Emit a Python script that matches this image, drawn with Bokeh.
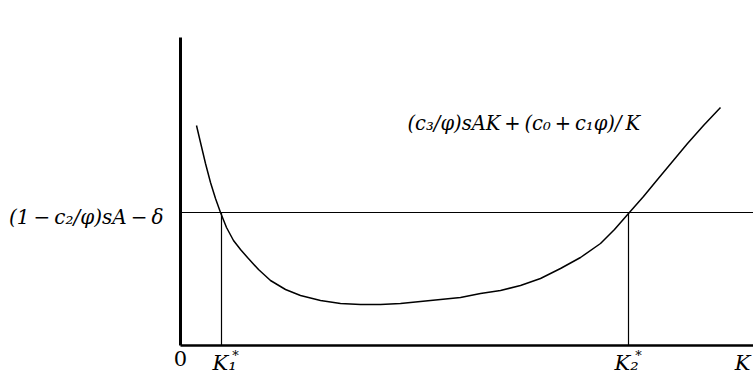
from bokeh.plotting import figure
from bokeh.models import Range1d, Label
from bokeh.embed import file_html
from bokeh.resources import INLINE

# ---- data (arbitrary units) ----
curve_px = [196, 200, 205, 210, 215, 220, 226, 233, 240, 247, 258, 270, 285, 300,
            320, 340, 360, 380, 400, 420, 440, 460, 480, 500, 520, 540, 560, 580,
            600, 614, 628, 643, 657, 672, 687, 703, 720]
curve_py = [125, 142, 163, 182, 198, 212, 227, 240, 249, 257, 269, 280, 289, 295,
            300, 303, 304, 304, 303, 301, 299, 297, 293, 290, 285, 278, 268, 257,
            243, 229, 213, 196, 179, 161, 143, 125, 107]
curve_K = [(x - 180) / 50 for x in curve_px]
curve_v = [(345 - y) / 50 for y in curve_py]
K1 = 0.82
K2 = 8.96
level = 2.66
K_max = 11.46
v_max = 6.16
level_label = "(1\u2009−\u2009c₂/φ)sA\u2009−\u2009δ"
curve_label = "(c₃/φ)sAK\u2009+\u2009(c₀\u2009+\u2009c₁φ)/\u2009K"
tick_labels = ["0", "K₁", "K₂", "K"]

FONT = "DejaVu Serif"

p = figure(width=753, height=383,
           x_range=Range1d(-3.6, 11.46), y_range=Range1d(-0.76, 6.9),
           output_backend="svg", toolbar_location=None,
           x_axis_location=None, y_axis_location=None, min_border=0)
p.grid.visible = False
p.outline_line_color = None
p.background_fill_color = "white"
p.border_fill_color = "white"

# axes drawn as thick lines
p.line([0, 0], [0, v_max], line_color="black", line_width=3)
p.line([0, K_max], [0, 0], line_color="black", line_width=2.5)

# horizontal level and vertical drops
p.segment(x0=[0], y0=[level], x1=[K_max], y1=[level], line_color="black", line_width=1.2)
p.segment(x0=[K1, K2], y0=[level, level], x1=[K1, K2], y1=[0, 0],
          line_color="black", line_width=1.2)

# cost curve
p.line(curve_K, curve_v, line_color="black", line_width=1.5)

def lab(x, y, text, size, align="center", baseline="top", xo=0, yo=0, style="italic"):
    p.add_layout(Label(x=x, y=y, text=text, text_align=align, text_baseline=baseline,
                       x_offset=xo, y_offset=yo, text_font=FONT, text_font_style=style,
                       text_font_size=size, text_color="black"))

# x-axis labels
lab(0, 0, tick_labels[0], "21px", yo=-5, style="normal", xo=0)
lab(K1, 0, tick_labels[1], "21px", yo=-5, xo=3)
lab(K1, 0, "*", "13px", yo=-2, xo=14, style="normal")
lab(K2, 0, tick_labels[2], "21px", yo=-5, xo=-2)
lab(K2, 0, "*", "13px", yo=-2, xo=10, style="normal")
lab(K_max, 0, tick_labels[3], "21px", align="right", yo=-5, xo=-3)

# level label (left of y axis)
lab(0, level, level_label, "20px", align="right", baseline="middle", xo=-17, yo=-4)

# curve label
lab(4.54, 4.44, curve_label, "19.5px", align="left", baseline="middle")

open("out.html", "w").write(file_html(p, INLINE))
